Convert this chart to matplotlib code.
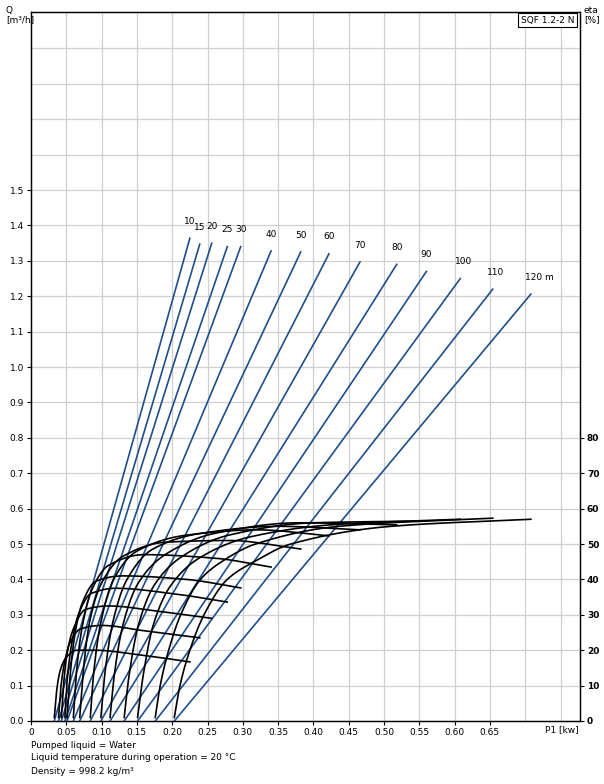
import numpy as np
import matplotlib
matplotlib.use("Agg")
import matplotlib.pyplot as plt

heads = [10, 15, 20, 25, 30, 40, 50, 60, 70, 80, 90, 100, 110, 120]
head_labels = ["10", "15", "20", "25", "30", "40", "50", "60", "70", "80", "90", "100", "110", "120 m"]
# Q-P curves: start power, end power, end flow
p_start = [0.033, 0.039, 0.043, 0.048, 0.051, 0.060, 0.069, 0.084, 0.099, 0.112, 0.132, 0.151, 0.176, 0.203]
p_end = [0.225, 0.239, 0.256, 0.278, 0.297, 0.340, 0.382, 0.422, 0.466, 0.518, 0.560, 0.608, 0.654, 0.708]
q_end = [1.364, 1.347, 1.350, 1.340, 1.340, 1.328, 1.325, 1.320, 1.297, 1.290, 1.270, 1.250, 1.220, 1.206]

# efficiency curves (P1 [kW], eta [%]) per head
eta_p = [
    [0.033, 0.036, 0.041, 0.050, 0.065, 0.09, 0.15, 0.225],
    [0.039, 0.042, 0.047, 0.055, 0.070, 0.10, 0.16, 0.239],
    [0.043, 0.046, 0.051, 0.060, 0.077, 0.11, 0.18, 0.256],
    [0.048, 0.051, 0.057, 0.067, 0.085, 0.12, 0.20, 0.278],
    [0.051, 0.055, 0.061, 0.072, 0.092, 0.13, 0.22, 0.297],
    [0.060, 0.064, 0.072, 0.086, 0.110, 0.16, 0.26, 0.340],
    [0.069, 0.074, 0.083, 0.100, 0.130, 0.19, 0.28, 0.382],
    [0.084, 0.089, 0.099, 0.117, 0.150, 0.22, 0.32, 0.422],
    [0.099, 0.105, 0.116, 0.136, 0.172, 0.24, 0.35, 0.466],
    [0.112, 0.118, 0.130, 0.152, 0.190, 0.26, 0.38, 0.518],
    [0.132, 0.139, 0.152, 0.175, 0.214, 0.28, 0.40, 0.560],
    [0.151, 0.159, 0.173, 0.197, 0.238, 0.31, 0.43, 0.608],
    [0.176, 0.183, 0.195, 0.212, 0.240, 0.270, 0.318, 0.436, 0.654],
    [0.203, 0.211, 0.225, 0.245, 0.278, 0.316, 0.368, 0.510, 0.708],
]
eta_v = [
    [1, 8, 14, 18, 20, 20, 18.8, 16.7],
    [1, 9, 16, 22, 26, 27, 25.5, 23.5],
    [1, 10, 19, 26, 31.5, 32.5, 31, 29],
    [1, 11, 21, 30, 36, 37.5, 36, 33.6],
    [1, 12, 23, 33, 39.5, 41, 40, 37.6],
    [1, 13, 26, 37, 44, 47, 46, 43.5],
    [1, 14, 28, 39, 46.5, 50.5, 51, 48.6],
    [1, 14, 28, 40, 48, 52.5, 54, 52.3],
    [1, 14, 28, 40, 48.5, 53, 55, 54],
    [1, 13, 27, 39, 47, 53, 56, 55.4],
    [1, 13, 27, 38.5, 46.5, 52.5, 56, 56.5],
    [1, 13, 27, 38, 46, 52, 55.5, 57],
    [1, 10, 20, 30, 40, 45, 50, 55, 57.3],
    [1, 10, 20, 30, 40, 45, 50, 55, 57],
]

q_ticks = [0.0, 0.1, 0.2, 0.3, 0.4, 0.5, 0.6, 0.7, 0.8, 0.9, 1.0, 1.1, 1.2, 1.3, 1.4, 1.5]
eta_ticks = [0, 10, 20, 30, 40, 50, 60, 70, 80]
p_ticks = [0, 0.05, 0.10, 0.15, 0.20, 0.25, 0.30, 0.35, 0.40, 0.45, 0.50, 0.55, 0.60, 0.65]


def pchip(xs, ys, n=30):
    x = np.asarray(xs, float)
    y = np.asarray(ys, float)
    h = np.diff(x)
    d = np.diff(y) / h
    m = np.zeros_like(y)
    for k in range(1, len(x) - 1):
        if d[k - 1] * d[k] > 0:
            w1 = 2 * h[k] + h[k - 1]
            w2 = h[k] + 2 * h[k - 1]
            m[k] = (w1 + w2) / (w1 / d[k - 1] + w2 / d[k])
    m[0] = d[0]
    m[-1] = d[-1]
    ox, oy = [], []
    for k in range(len(x) - 1):
        t = np.linspace(0, 1, n, endpoint=False)
        h00 = 2 * t**3 - 3 * t**2 + 1
        h10 = t**3 - 2 * t**2 + t
        h01 = -2 * t**3 + 3 * t**2
        h11 = t**3 - t**2
        ox.extend(x[k] + t * h[k])
        oy.extend(h00 * y[k] + h10 * h[k] * m[k] + h01 * y[k + 1] + h11 * h[k] * m[k + 1])
    ox.append(x[-1])
    oy.append(y[-1])
    return np.array(ox), np.array(oy)


fig = plt.figure(figsize=(6.04, 7.84), dpi=100)
ax = fig.add_axes([31 / 604, 63 / 784, 549 / 604, 709 / 784])
ax.set_xlim(0, 0.7776)
ax.set_ylim(0, 2.003)
for x in np.arange(0.05, 0.77, 0.05):
    ax.axvline(x, color="#d0d0d0", lw=0.9, zorder=0)
for y in np.arange(0.1, 2.0, 0.1):
    ax.axhline(y, color="#d0d0d0", lw=0.9, zorder=0)

for i, h in enumerate(heads):
    ax.plot([p_start[i], p_end[i]], [0.0, q_end[i]], color="#1f4e89", lw=1.2, zorder=3)
    ax.text(p_end[i] - 0.008, q_end[i] + 0.035, head_labels[i], fontsize=6.5, ha="left", va="bottom")
    xs, ys = pchip(eta_p[i], np.array(eta_v[i]) / 100.0)
    ax.plot(xs, ys, color="black", lw=1.2, zorder=4)

ax.set_xticks(p_ticks)
ax.set_xticklabels(["0", "0.05", "0.10", "0.15", "0.20", "0.25", "0.30", "0.35", "0.40", "0.45",
                    "0.50", "0.55", "0.60", "0.65"], fontsize=6.5)
ax.set_yticks(q_ticks)
ax.set_yticklabels([f"{q:.1f}" for q in q_ticks], fontsize=6.5)
ax.tick_params(length=3, width=0.8, pad=2)
ax2 = ax.twinx()
ax2.set_ylim(0, 200.3)
ax2.set_yticks(eta_ticks)
ax2.set_yticklabels([str(e) for e in eta_ticks], fontsize=6.5, fontweight="bold")
ax2.tick_params(length=3, width=0.8, pad=2)
for sp in list(ax.spines.values()) + list(ax2.spines.values()):
    sp.set_linewidth(0.9)

fig.text(6 / 604, 1 - 6 / 784, "Q\n[m³/h]", fontsize=6.5, va="top", ha="left", linespacing=1.0)
fig.text(584 / 604, 1 - 6 / 784, "eta\n[%]", fontsize=6.5, va="top", ha="left", linespacing=1.0)
ax.text(0.99, 0.995, "SQF 1.2-2 N", transform=ax.transAxes, fontsize=6.5, ha="right", va="top",
        bbox=dict(boxstyle="square,pad=0.3", fc="white", ec="black", lw=0.8))
fig.text(545 / 604, 1 - 730 / 784, "P1 [kw]", fontsize=6.5, ha="left", va="center")
fig.text(31 / 604, 1 - 745 / 784, "Pumped liquid = Water", fontsize=6.5, va="center")
fig.text(31 / 604, 1 - 758 / 784, "Liquid temperature during operation = 20 °C", fontsize=6.5, va="center")
fig.text(31 / 604, 1 - 771 / 784, "Density = 998.2 kg/m³", fontsize=6.5, va="center")

fig.savefig("out.png", dpi=100)
